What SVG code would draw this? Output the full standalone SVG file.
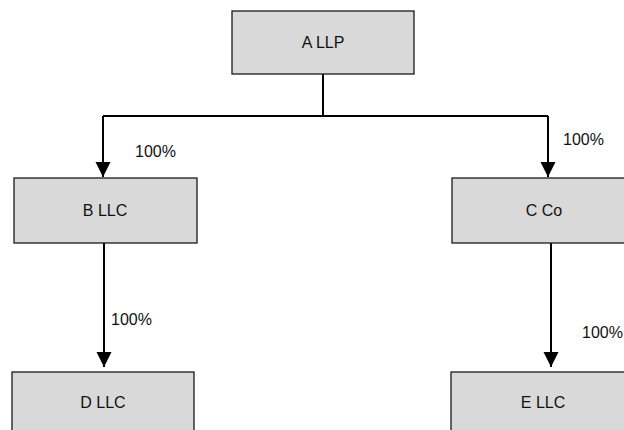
<svg xmlns="http://www.w3.org/2000/svg" width="624" height="430" viewBox="0 0 624 430">
<defs>
<style>
.box{fill:#d9d9d9;stroke:#1a1a1a;stroke-width:1.3}
.t{font-family:"Liberation Sans",Arial,sans-serif;font-size:16px;fill:#111}
.c{text-anchor:middle}
.ln{fill:none;stroke:#000;stroke-width:2}
</style>
<marker id="ah" markerUnits="userSpaceOnUse" markerWidth="16" markerHeight="16" refX="15" refY="7.5" orient="auto" viewBox="0 0 16 16">
<path d="M0,0 L15,7.5 L0,15 Z" fill="#000"/>
</marker>
</defs>
<rect width="624" height="430" fill="#fff"/>
<g id="connectors">
<path class="ln" d="M323,74 V116"/>
<path class="ln" d="M103,116 H548"/>
<path class="ln" d="M103,116 V177" marker-end="url(#ah)"/>
<path class="ln" d="M548,116 V177" marker-end="url(#ah)"/>
<path class="ln" d="M104,243 V367" marker-end="url(#ah)"/>
<path class="ln" d="M551,243 V367" marker-end="url(#ah)"/>
<text class="t" x="135" y="157">100%</text>
<text class="t" x="563" y="145">100%</text>
<text class="t" x="111" y="325">100%</text>
<text class="t" x="582" y="338">100%</text>
</g>
<g id="nodeA">
<rect class="box" x="232" y="11" width="182" height="63"/>
<text class="t c" x="323" y="48">A LLP</text>
</g>
<g id="nodeB">
<rect class="box" x="14" y="178" width="183" height="65"/>
<text class="t c" x="105" y="216">B LLC</text>
</g>
<g id="nodeC">
<rect class="box" x="452" y="178" width="184" height="65"/>
<text class="t c" x="544" y="216">C Co</text>
</g>
<g id="nodeD">
<rect class="box" x="12" y="372" width="182" height="65"/>
<text class="t c" x="103" y="408">D LLC</text>
</g>
<g id="nodeE">
<rect class="box" x="451" y="372" width="184" height="65"/>
<text class="t c" x="543" y="408">E LLC</text>
</g>
</svg>
